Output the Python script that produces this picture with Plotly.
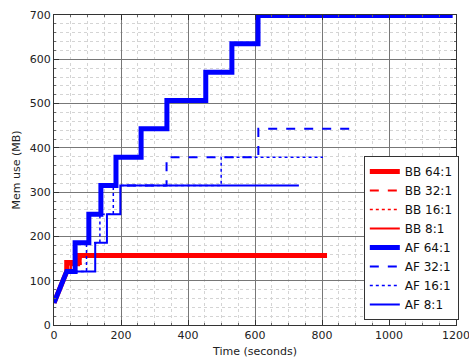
import plotly.graph_objects as go

# ramp shared by all series
ramp_x = [0, 38]
ramp_y = [50, 121]

series_names = ["BB 64:1", "BB 32:1", "BB 16:1", "BB 8:1",
                "AF 64:1", "AF 32:1", "AF 16:1", "AF 8:1"]
step_times = [
    [38, 75],
    [50, 78],
    [45, 80],
    [50, 75],
    [63, 104, 140, 185, 260, 337, 453, 531, 609],
    [63, 104, 140, 336, 610],
    [97, 137, 177, 499],
    [123, 158, 198],
]
step_levels = [
    [141, 157],
    [136, 157],
    [138, 157],
    [135, 157],
    [186, 250, 315, 379, 443, 507, 571, 635, 699],
    [186, 250, 315, 379, 443],
    [186, 250, 315, 379],
    [186, 250, 315],
]
end_times = [815, 815, 815, 815, 1190, 900, 803, 731]

colors = ["#ff0000"] * 4 + ["#0000ff"] * 4
widths = [5, 2, 1.5, 2, 5, 2, 1.5, 2]
dashes = ["solid", "dash", "dot", "solid"] * 2

x_ticks = [0, 200, 400, 600, 800, 1000, 1200]
y_ticks = [0, 100, 200, 300, 400, 500, 600, 700]


def build(ts, ls, end):
    xs = list(ramp_x)
    ys = list(ramp_y)
    cur = ramp_y[-1]
    for t, l in zip(ts, ls):
        xs += [t, t]
        ys += [cur, l]
        cur = l
    xs.append(end)
    ys.append(cur)
    return xs, ys


fig = go.Figure()
for name, ts, ls, end, c, w, d in zip(series_names, step_times, step_levels,
                                      end_times, colors, widths, dashes):
    xs, ys = build(ts, ls, end)
    fig.add_trace(go.Scatter(x=xs, y=ys, mode="lines", name=name,
                             line=dict(color=c, width=w, dash=d)))

font = dict(family="DejaVu Sans", size=11, color="#222")
axis_common = dict(
    showline=True, linecolor="#333", linewidth=1, mirror="allticks",
    ticks="inside", ticklen=5, tickcolor="#333",
    showgrid=True, gridcolor="#777", gridwidth=1,
    zeroline=False, tickfont=font, automargin=False,
    ticklabeloverflow="allow",
)
fig.update_xaxes(range=[0, 1200], tickvals=x_ticks,
                 title=dict(text="Time (seconds)", font=font, standoff=12),
                 minor=dict(dtick=50, ticks="inside", ticklen=2, tickcolor="#666",
                            showgrid=True, gridcolor="#d4d4d4", griddash="dot"),
                 **axis_common)
fig.update_yaxes(range=[0, 700], tickvals=y_ticks,
                 title=dict(text="Mem use (MB)", font=font, standoff=6),
                 minor=dict(dtick=20, ticks="inside", ticklen=2, tickcolor="#666",
                            showgrid=True, gridcolor="#d4d4d4", griddash="dot"),
                 **axis_common)

fig.update_layout(
    width=469, height=358,
    margin=dict(l=54, r=13, t=15, b=33, autoexpand=False),
    paper_bgcolor="white", plot_bgcolor="white",
    font=font,
    legend=dict(x=1.007, xanchor="right", y=0.016, yanchor="bottom",
                bgcolor="white", bordercolor="#333", borderwidth=1,
                font=dict(family="DejaVu Sans", size=12, color="#111"),
                tracegroupgap=0, itemwidth=30),
)

fig.write_html("out.html")
